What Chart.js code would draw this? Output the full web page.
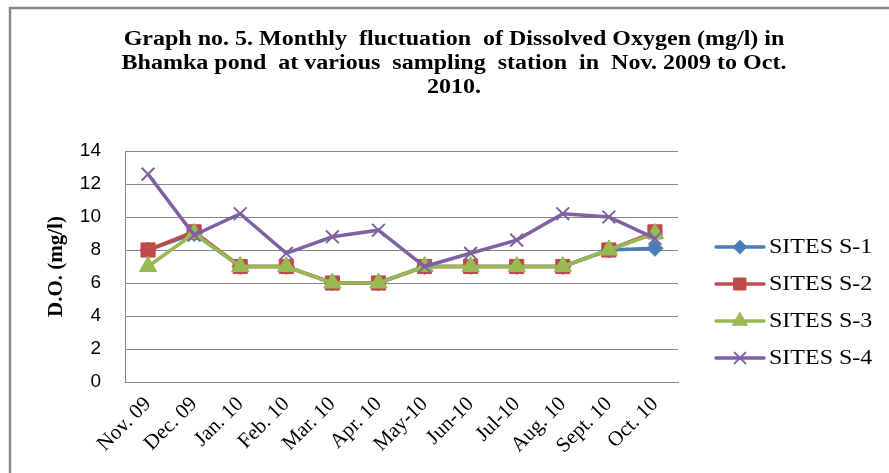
<!DOCTYPE html>
<html>
<head>
<meta charset="utf-8">
<script src="https://cdn.jsdelivr.net/npm/chart.js@4/dist/chart.umd.min.js"></script>
<style>
html,body{margin:0;padding:0;background:#fff;}
#wrap{width:889px;height:473px;position:relative;}
</style>
</head>
<body>
<div id="wrap"><canvas id="c" width="889" height="473"></canvas></div>
<script>
const categories = ['Nov. 09','Dec. 09','Jan. 10','Feb. 10','Mar. 10','Apr. 10','May-10','Jun-10','Jul-10','Aug. 10','Sept. 10','Oct. 10'];
const s1 = [8, 9, 7, 7, 6, 6, 7, 7, 7, 7, 8, 8.1];
const s2 = [8, 9.1, 7, 7, 6, 6, 7, 7, 7, 7, 8, 9.1];
const s3 = [7, 9, 7, 7, 6, 6, 7, 7, 7, 7, 8, 9];
const s4 = [12.6, 8.9, 10.2, 7.8, 8.8, 9.2, 7, 7.8, 8.6, 10.2, 10, 8.7];
const seriesNames = ['SITES S-1','SITES S-2','SITES S-3','SITES S-4'];
const titleLines = ['Graph no. 5. Monthly  fluctuation  of Dissolved Oxygen (mg/l) in','Bhamka pond  at various  sampling  station  in  Nov. 2009 to Oct.','2010.'];
const yTitle = 'D.O. (mg/l)';

const colors = ['#4A7EBB','#BE4B48','#98B954','#7F61A2'];
const styles = ['rectRot','rect','triangle','crossRot'];
const radii = [8, 10, 10, 9];
const values = [s1, s2, s3, s4];

const datasets = values.map((v, i) => ({
  label: seriesNames[i],
  data: v,
  borderColor: colors[i],
  backgroundColor: colors[i],
  pointBackgroundColor: colors[i],
  pointBorderColor: colors[i],
  pointStyle: styles[i],
  pointRadius: radii[i],
  pointBorderWidth: i === 3 ? 2 : 1,
  borderWidth: 3.5,
  tension: 0,
  order: 3 - i
}));

const SX = 1.2; // horizontal stretch of the original rendering

const framePlugin = {
  id: 'frame',
  beforeDraw(chart) {
    const ctx = chart.ctx;
    ctx.save();
    ctx.fillStyle = '#fff';
    ctx.fillRect(0, 0, chart.width, chart.height);
    ctx.strokeStyle = '#878787';
    ctx.lineWidth = 2.5;
    ctx.strokeRect(10, 8, 900, 500);
    ctx.restore();
  }
};

const titlePlugin = {
  id: 'ttl',
  afterDraw(chart) {
    const ctx = chart.ctx;
    ctx.save();
    ctx.font = 'bold 20px "Liberation Serif"';
    ctx.fillStyle = '#000';
    ctx.textAlign = 'center';
    ctx.textBaseline = 'middle';
    titleLines.forEach((t, i) => {
      ctx.save();
      ctx.translate(454, 40 + i * 24);
      ctx.scale(SX, 1);
      ctx.fillText(t, 0, 0);
      ctx.restore();
    });
    ctx.restore();
  }
};

const legendPlugin = {
  id: 'lgd',
  afterDraw(chart) {
    const ctx = chart.ctx;
    ctx.save();
    chart.data.datasets.forEach((d, i) => {
      const y = 247 + i * 37;
      ctx.strokeStyle = d.borderColor;
      ctx.lineWidth = 3.5;
      ctx.lineCap = 'round';
      ctx.beginPath();
      ctx.moveTo(716, y);
      ctx.lineTo(764, y);
      ctx.stroke();
      ctx.fillStyle = d.pointBackgroundColor;
      ctx.strokeStyle = d.pointBorderColor;
      ctx.lineWidth = d.pointBorderWidth;
      Chart.helpers.drawPoint(ctx, {pointStyle: d.pointStyle, radius: d.pointRadius * 0.85, borderWidth: d.pointBorderWidth, rotation: 0}, 740, y);
      ctx.fillStyle = '#000';
      ctx.font = '20px "Liberation Serif"';
      ctx.textAlign = 'left';
      ctx.textBaseline = 'middle';
      ctx.save();
      ctx.translate(769, y + 1);
      ctx.scale(SX, 1);
      ctx.fillText(d.label, 0, 0);
      ctx.restore();
    });
    ctx.restore();
  }
};

new Chart(document.getElementById('c'), {
  type: 'line',
  data: { labels: categories, datasets },
  options: {
    responsive: false,
    animation: false,
    devicePixelRatio: 1,
    layout: { padding: { left: 10, right: 211, top: 151, bottom: 2 } },
    plugins: { legend: { display: false }, title: { display: false }, tooltip: { enabled: false } },
    scales: {
      x: {
        offset: true,
        grid: { display: false, drawTicks: false },
        border: { display: true, color: '#868686', width: 1 },
        ticks: {
          autoSkip: false, maxRotation: 45, minRotation: 45, padding: 10,
          color: '#000', font: { family: '"Liberation Serif"', size: 21 }
        },
        afterFit(s) { s.height = 473 - 382 - 2; }
      },
      y: {
        min: 0, max: 14,
        grid: { color: '#868686', lineWidth: 1, drawTicks: false },
        border: { display: true, color: '#868686', width: 1 },
        ticks: { stepSize: 2, padding: 24, color: '#000', font: { family: '"Liberation Sans"', size: 19 } },
        title: { display: true, text: yTitle, color: '#000', font: { family: '"Liberation Serif"', size: 21, weight: 'bold' }, padding: { top: 34, bottom: 0 } },
        afterFit(s) { s.width = 125 - 10; }
      }
    }
  },
  plugins: [framePlugin, titlePlugin, legendPlugin]
});
</script>
</body>
</html>
